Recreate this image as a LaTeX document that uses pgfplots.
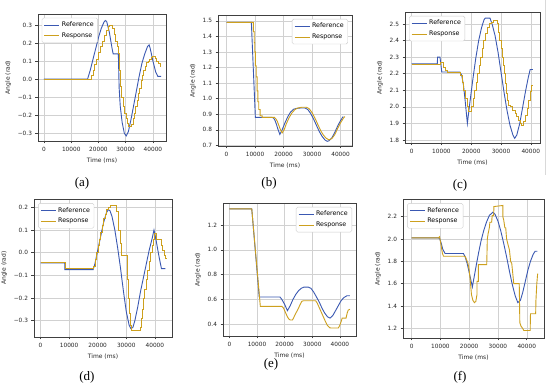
\documentclass[border=0pt]{standalone}
\usepackage{pgfplots}
\pgfplotsset{compat=1.18}
\usepackage{fontspec}
\setmainfont{DejaVu Sans}
\newfontfamily\capfont{Liberation Serif}
\definecolor{refblue}{RGB}{58,88,178}
\definecolor{resyel}{RGB}{205,160,30}
\pgfplotsset{
 panel/.style={
  scale only axis, anchor=south west,
  font=\fontsize{5.8}{7}\selectfont,
  tick label style={font=\fontsize{5.8}{7}\selectfont, text=black!85},
  label style={font=\fontsize{6}{7}\selectfont, text=black!85},
  /pgf/number format/assume math mode=true,
  axis line style={black!75, line width=0.5pt},
  tick style={black!75, line width=0.5pt},
  tick align=outside, tick pos=left,
  major tick length=2.5pt,
  grid=major, grid style={black!18, line width=0.45pt},
  xlabel={Time (ms)}, ylabel={Angle (rad)},
  xtick={0,10000,20000,30000,40000},
  xticklabels={0,10000,20000,30000,40000},
  scaled x ticks=false, scaled y ticks=false,
  legend cell align=left,
  legend style={font=\fontsize{6.3}{7.5}\selectfont, rounded corners=1.5pt, draw=black!20, fill=white, inner sep=2pt, row sep=0.5pt},
  legend image code/.code={\draw[##1, line width=0.9pt] (0pt,0pt) -- (15pt,0pt);},
  every axis plot/.append style={line width=0.9pt, mark=none},
 },
}
\begin{document}
\begin{tikzpicture}[x=1pt,y=1pt]
\fill[white] (0,0) rectangle (550,387);
\draw[black!15, line width=0.6pt] (545,387) -- (545,212);
% (a)
\begin{axis}[panel, at={(38pt,246pt)}, width=128pt, height=127pt,
  xmin=-2200, xmax=44800, ymin=-0.343, ymax=0.361,
  ytick={-0.3,-0.2,-0.1,0,0.1,0.2,0.3}, yticklabels={−0.3,−0.2,−0.1,0.0,0.1,0.2,0.3},
  legend pos=north west]
\addplot[refblue] coordinates {(0,0) (16000,0) (17000,0.05) (18000,0.11) (19000,0.17) (20000,0.23) (21000,0.28) (22000,0.315) (22500,0.325) (23000,0.32) (24000,0.26) (25000,0.17) (25400,0.14) (27300,0.14) (27600,-0.05) (28000,-0.15) (28700,-0.24) (29500,-0.30) (30200,-0.315) (31000,-0.29) (32000,-0.22) (33000,-0.14) (34000,-0.06) (35000,0.02) (36000,0.09) (37000,0.14) (38000,0.18) (38600,0.19) (39000,0.17) (40000,0.10) (41000,0.04) (41800,0.015) (43000,0.015)};
\addlegendentry{Reference}
\addplot[resyel, const plot] coordinates {(0,0) (17300,0.02) (18000,0.05) (18700,0.08) (19400,0.11) (20100,0.15) (20800,0.18) (21500,0.21) (22200,0.24) (22900,0.27) (23600,0.29) (24200,0.30) (25300,0.28) (25800,0.25) (26300,0.21) (26800,0.18) (27300,0.14) (27800,0.05) (28200,-0.04) (28600,-0.10) (29100,-0.15) (29600,-0.19) (30100,-0.22) (30600,-0.245) (31100,-0.26) (31700,-0.265) (32200,-0.25) (32700,-0.22) (33200,-0.19) (33700,-0.15) (34200,-0.12) (34700,-0.08) (35200,-0.05) (35700,-0.01) (36200,0.02) (36700,0.05) (37200,0.07) (37700,0.09) (38200,0.10) (38700,0.11) (39300,0.12) (40000,0.125) (40800,0.115) (41400,0.10) (42000,0.085) (42700,0.07) (43000,0.07)};
\addlegendentry{Response}
\end{axis}
% (b)
\begin{axis}[panel, at={(218pt,241pt)}, width=134pt, height=131pt,
  xmin=-3000, xmax=44000, ymin=0.696, ymax=1.537,
  ytick={0.7,0.8,0.9,1.0,1.1,1.2,1.3,1.4,1.5}, yticklabels={0.7,0.8,0.9,1.0,1.1,1.2,1.3,1.4,1.5},
  legend pos=north east]
\addplot[refblue] coordinates {(0,1.49) (8700,1.49) (10100,0.88) (16000,0.88) (16500,0.875) (17000,0.86) (17500,0.835) (18000,0.805) (18700,0.77) (19500,0.80) (20500,0.845) (21500,0.885) (22500,0.915) (23500,0.932) (24500,0.937) (26000,0.94) (27500,0.94) (28500,0.93) (29500,0.905) (30500,0.87) (31500,0.83) (32500,0.79) (33500,0.758) (34500,0.735) (35300,0.726) (36000,0.73) (37000,0.75) (38000,0.785) (39000,0.825) (40000,0.86) (40900,0.885)};
\addlegendentry{Reference}
\addplot[resyel] coordinates {(0,1.49) (9400,1.49) (9400,1.43) (9700,1.43) (9700,1.36) (9900,1.36) (9900,1.30) (10100,1.30) (10100,1.21) (10400,1.21) (10400,1.14) (10700,1.14) (10700,1.05) (11000,1.05) (11000,0.98) (11300,0.98) (11300,0.93) (11800,0.93) (11800,0.89) (12500,0.89) (12500,0.88) (16800,0.88) (17300,0.87) (17800,0.855) (18300,0.83) (18800,0.805) (19500,0.78) (20200,0.80) (21000,0.84) (22000,0.88) (23000,0.91) (24000,0.93) (25000,0.94) (26500,0.945) (28000,0.945) (29000,0.935) (30000,0.91) (31000,0.875) (32000,0.835) (33000,0.795) (34000,0.765) (35000,0.745) (36000,0.735) (37000,0.745) (38000,0.77) (39000,0.81) (40000,0.845) (41000,0.875) (41500,0.885)};
\addlegendentry{Response}
\end{axis}
% (c)
\begin{axis}[panel, at={(405pt,244pt)}, width=135pt, height=131pt,
  xmin=-2250, xmax=43100, ymin=1.782, ymax=2.572,
  ytick={1.8,1.9,2.0,2.1,2.2,2.3,2.4,2.5}, yticklabels={1.8,1.9,2.0,2.1,2.2,2.3,2.4,2.5},
  legend pos=north west]
\addplot[refblue] coordinates {(0,2.26) (8600,2.26) (8700,2.30) (9500,2.30) (10100,2.21) (16200,2.21) (16800,2.19) (17400,2.13) (18000,2.03) (18700,1.90) (19500,2.02) (20500,2.16) (21500,2.29) (22500,2.40) (23500,2.48) (24300,2.525) (24700,2.535) (26300,2.535) (27000,2.50) (28000,2.43) (29000,2.33) (30000,2.21) (31000,2.09) (32000,1.98) (33000,1.89) (34000,1.83) (34600,1.81) (35300,1.83) (36300,1.90) (37300,2.00) (38300,2.10) (39200,2.18) (39800,2.225) (40700,2.225)};
\addlegendentry{Reference}
\addplot[resyel, const plot] coordinates {(0,2.255) (9800,2.27) (10700,2.24) (11300,2.22) (11900,2.21) (16500,2.19) (17000,2.15) (17500,2.10) (18000,2.05) (18600,2.00) (19100,1.97) (20100,2.00) (20600,2.05) (21100,2.10) (21600,2.15) (22100,2.20) (22600,2.25) (23100,2.30) (23600,2.35) (24100,2.40) (24700,2.44) (25300,2.48) (26000,2.50) (26800,2.51) (27400,2.52) (28800,2.50) (29200,2.45) (29600,2.40) (30000,2.35) (30400,2.30) (30800,2.25) (31100,2.20) (31400,2.14) (31700,2.08) (32000,2.04) (32600,2.01) (33300,2.00) (34000,1.98) (34700,1.96) (35300,1.94) (35900,1.92) (36500,1.90) (37000,1.89) (37700,1.91) (38300,1.95) (38800,1.99) (39300,2.04) (39800,2.09) (40300,2.13) (40700,2.13)};
\addlegendentry{Response}
\end{axis}
% (d)
\begin{axis}[panel, at={(34pt,50pt)}, width=138pt, height=138pt,
  xmin=-2300, xmax=46000, ymin=-0.372, ymax=0.237,
  ytick={-0.3,-0.2,-0.1,0,0.1,0.2}, yticklabels={−0.3,−0.2,−0.1,0.0,0.1,0.2},
  legend pos=north west]
\addplot[refblue] coordinates {(0,-0.045) (8500,-0.045) (8500,-0.075) (18400,-0.075) (19000,-0.05) (20000,0.01) (21000,0.07) (22000,0.13) (23000,0.175) (23700,0.19) (24300,0.185) (25000,0.16) (26000,0.10) (27000,0.02) (28000,-0.07) (29000,-0.17) (30000,-0.26) (31000,-0.32) (31600,-0.335) (32300,-0.33) (33000,-0.30) (34000,-0.24) (35000,-0.17) (36000,-0.11) (37000,-0.05) (38000,0.01) (39000,0.06) (39700,0.10) (40500,0.05) (41500,-0.02) (42300,-0.07) (43700,-0.07)};
\addlegendentry{Reference}
\addplot[resyel, const plot] coordinates {(0,-0.045) (8600,-0.07) (18600,-0.06) (19100,-0.03) (19600,0.0) (20100,0.03) (20600,0.06) (21100,0.09) (21600,0.12) (22100,0.15) (22600,0.17) (23200,0.19) (23800,0.20) (24400,0.21) (26600,0.18) (27200,0.10) (27800,0.04) (28300,-0.01) (30300,-0.12) (30600,-0.20) (31000,-0.27) (31400,-0.32) (31800,-0.345) (34800,-0.33) (35300,-0.29) (35600,-0.25) (36000,-0.20) (36500,-0.16) (37000,-0.12) (37500,-0.08) (38000,-0.04) (38500,0.00) (39000,0.03) (39500,0.06) (40000,0.085) (40600,0.06) (42300,0.03) (42700,0.01) (43300,-0.01) (43700,-0.025) (44000,-0.03)};
\addlegendentry{Response}
\end{axis}
% (e)
\begin{axis}[panel, at={(223pt,51pt)}, width=133pt, height=133pt,
  xmin=-2300, xmax=45800, ymin=0.306, ymax=1.377,
  ytick={0.4,0.6,0.8,1.0,1.2}, yticklabels={0.4,0.6,0.8,1.0,1.2},
  legend pos=north east]
\addplot[refblue] coordinates {(0,1.33) (8100,1.33) (10800,0.62) (18300,0.62) (19000,0.60) (20000,0.56) (21000,0.51) (22000,0.55) (23000,0.60) (24000,0.64) (25000,0.67) (26000,0.69) (27000,0.70) (28500,0.70) (29500,0.69) (30500,0.66) (31500,0.62) (32500,0.58) (33500,0.53) (34500,0.49) (35500,0.46) (36400,0.45) (37400,0.47) (38400,0.51) (39400,0.55) (40400,0.59) (41400,0.615) (42500,0.63) (43600,0.63)};
\addlegendentry{Reference}
\addplot[resyel] coordinates {(0,1.33) (8100,1.33) (11200,0.545) (19000,0.545) (19600,0.53) (20200,0.50) (20800,0.47) (21400,0.445) (22000,0.435) (22800,0.435) (23200,0.45) (23700,0.475) (24300,0.50) (25000,0.53) (25600,0.56) (26200,0.585) (26800,0.59) (31200,0.59) (31800,0.57) (32400,0.54) (33000,0.51) (33600,0.48) (34200,0.45) (34800,0.42) (35500,0.39) (36300,0.372) (37000,0.37) (39400,0.37) (39900,0.39) (40400,0.42) (40800,0.45) (42200,0.45) (42600,0.49) (43000,0.515) (43600,0.52)};
\addlegendentry{Response}
\end{axis}
% (f)
\begin{axis}[panel, at={(403pt,49pt)}, width=141pt, height=139pt,
  xmin=-3000, xmax=46000, ymin=1.113, ymax=2.358,
  ytick={1.2,1.4,1.6,1.8,2.0,2.2}, yticklabels={1.2,1.4,1.6,1.8,2.0,2.2},
  legend pos=north west]
\addplot[refblue] coordinates {(0,2.01) (9300,2.01) (9800,2.00) (10300,1.96) (10800,1.91) (11600,1.87) (18000,1.87) (18600,1.84) (19300,1.78) (20000,1.70) (20600,1.63) (21100,1.57) (21800,1.67) (22500,1.77) (23300,1.88) (24100,1.98) (25000,2.07) (26000,2.15) (27000,2.21) (28200,2.24) (29000,2.22) (30000,2.16) (31000,2.07) (32000,1.96) (33000,1.84) (34000,1.71) (35000,1.59) (36000,1.49) (36900,1.43) (37800,1.45) (38600,1.52) (39500,1.62) (40400,1.72) (41300,1.80) (42200,1.86) (42900,1.89) (43700,1.89)};
\addlegendentry{Reference}
\addplot[resyel] coordinates {(0,2.01) (9300,2.01) (9700,2.02) (10200,1.95) (10700,1.87) (11100,1.845) (18600,1.845) (19000,1.82) (19600,1.78) (20000,1.72) (20400,1.62) (20800,1.50) (21300,1.45) (21800,1.43) (22300,1.44) (22700,1.50) (22700,1.62) (23200,1.62) (23200,1.77) (26100,1.77) (26300,2.00) (26600,2.05) (27000,2.10) (27200,2.15) (27800,2.15) (28000,2.21) (28500,2.21) (28600,2.29) (31700,2.30) (31700,2.20) (32000,2.17) (32400,2.10) (32700,2.10) (33000,2.00) (33500,1.95) (34000,1.90) (34400,1.80) (34800,1.78) (35300,1.65) (35500,1.60) (37400,1.60) (37600,1.25) (38000,1.22) (38800,1.19) (39000,1.18) (41200,1.18) (41300,1.33) (43100,1.33) (43200,1.45) (43500,1.60) (43800,1.69)};
\addlegendentry{Response}
\end{axis}
\node[font=\capfont\fontsize{13}{14}\selectfont] at (82,204) {(a)};
\node[font=\capfont\fontsize{13}{14}\selectfont] at (269,204) {(b)};
\node[font=\capfont\fontsize{13}{14}\selectfont] at (460,202) {(c)};
\node[font=\capfont\fontsize{13}{14}\selectfont] at (87,10) {(d)};
\node[font=\capfont\fontsize{13}{14}\selectfont] at (271,23) {(e)};
\node[font=\capfont\fontsize{13}{14}\selectfont] at (460,10) {(f)};
\pgfresetboundingbox
\useasboundingbox (0,0) rectangle (550,387);
\end{tikzpicture}
\end{document}
